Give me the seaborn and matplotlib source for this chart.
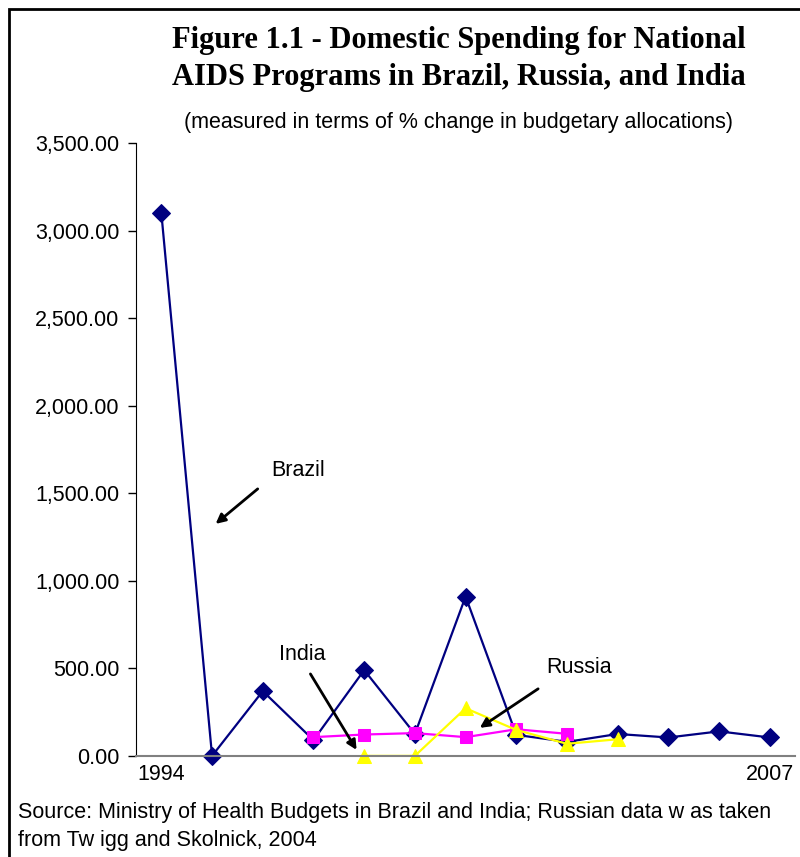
import numpy as np
import pandas as pd
import matplotlib
matplotlib.use('Agg')
import matplotlib.pyplot as plt
import seaborn as sns

# values (% change in budgetary allocations)
positions = list(range(13))
tick_labels = ['1994', '', '', '', '', '', '', '', '', '', '', '', '2007']
brazil = [3100, 0, 370, 90, 490, 125, 910, 120, 80, 125, 105, 140, 105]
india = [np.nan, np.nan, np.nan, 107, 122, 130, 107, 152, 126, np.nan, np.nan, np.nan, np.nan]
russia = [np.nan, np.nan, np.nan, np.nan, 0, 0, 272, 148, 69, 95, np.nan, np.nan, np.nan]

df = pd.DataFrame({'pos': positions, 'Brazil': brazil, 'India': india, 'Russia': russia})

sns.set_style('white')
plt.rcParams['font.family'] = ['Liberation Sans', 'DejaVu Sans']
plt.rcParams['text.color'] = 'black'
plt.rcParams['xtick.labelcolor'] = 'black'
plt.rcParams['ytick.labelcolor'] = 'black'

fig = plt.figure(figsize=(8, 8.57), dpi=100)
ax = fig.add_axes([0.17, 0.118, 0.824, 0.715])

sns.lineplot(data=df, x='pos', y='Brazil', ax=ax, color='#000080', marker='D',
             markersize=9, markeredgecolor='#000080', linewidth=1.6, clip_on=False)
sns.lineplot(data=df.dropna(subset=['India']), x='pos', y='India', ax=ax, color='#FF00FF',
             marker='s', markersize=8.5, markeredgecolor='#FF00FF', linewidth=1.6, clip_on=False)
sns.lineplot(data=df.dropna(subset=['Russia']), x='pos', y='Russia', ax=ax, color='#FFFF00',
             marker='^', markersize=10, markeredgecolor='#FFFF00', linewidth=1.6, clip_on=False)

ax.set_xlim(-0.5, 12.5)
ax.set_ylim(0, 3500)
ax.set_yticks(np.arange(0, 3501, 500))
ax.set_yticklabels([f'{v:,.2f}' for v in np.arange(0, 3501, 500)], fontsize=15.5)
ax.set_xticks(positions)
ax.set_xticklabels(tick_labels, fontsize=15.5)
ax.set_xticks(np.arange(-0.5, 13, 1), minor=True)
ax.tick_params(axis='x', which='major', length=0, pad=6)
ax.tick_params(axis='x', which='minor', length=6, width=1, color='#808080', direction='out')
ax.tick_params(axis='y', length=6, width=1, color='black', direction='out', pad=6, left=True)
ax.set_xlabel('')
ax.set_ylabel('')
for s in ['top', 'right']:
    ax.spines[s].set_visible(False)
ax.spines['left'].set_color('black')
ax.spines['bottom'].set_color('#808080')
ax.spines['bottom'].set_linewidth(1.5)

# labels with arrows
arrow = dict(arrowstyle='-|>', color='black', lw=2, mutation_scale=14, shrinkA=0, shrinkB=0)
ax.annotate('', xy=(1.07, 1325), xytext=(1.9, 1525), arrowprops=arrow)
ax.text(2.7, 1630, 'Brazil', fontsize=15.5, ha='center', va='center')
ax.annotate('', xy=(3.85, 34), xytext=(2.94, 468), arrowprops=arrow)
ax.text(2.78, 577, 'India', fontsize=15.5, ha='center', va='center')
ax.annotate('', xy=(6.28, 160), xytext=(7.43, 383), arrowprops=arrow)
ax.text(8.24, 503, 'Russia', fontsize=15.5, ha='center', va='center')

fig.text(0.574, 0.931, 'Figure 1.1 - Domestic Spending for National\nAIDS Programs in Brazil, Russia, and India',
         ha='center', va='center', fontsize=22, fontweight='bold', family='Liberation Serif',
         linespacing=1.35)
fig.text(0.573, 0.857, '(measured in terms of % change in budgetary allocations)',
         ha='center', va='center', fontsize=15.5)
fig.text(0.022, 0.036, 'Source: Ministry of Health Budgets in Brazil and India; Russian data w as taken\nfrom Tw igg and Skolnick, 2004',
         ha='left', va='center', fontsize=15.5, linespacing=1.45)

border = plt.Rectangle((0.011, -0.01), 0.99, 1.0, transform=fig.transFigure,
                       fill=False, edgecolor='black', linewidth=2)
fig.patches.append(border)

fig.savefig('out.png', dpi=100)
